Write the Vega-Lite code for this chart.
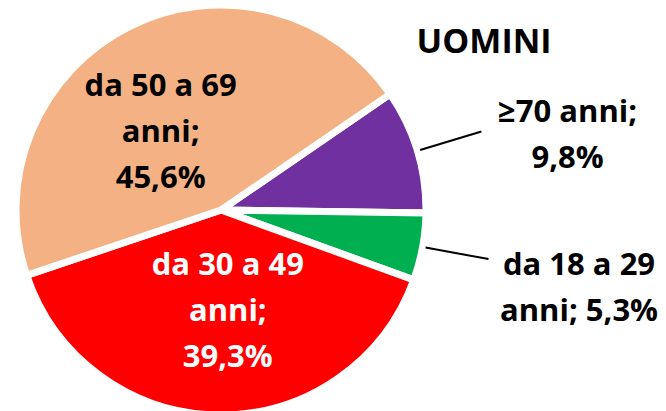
{
  "$schema": "https://vega.github.io/schema/vega-lite/v6.json",
  "width": 442,
  "height": 400,
  "autosize": "none",
  "padding": {"left": 0, "top": 10, "right": 224, "bottom": 1},
  "background": "white",
  "data": {
    "values": [
      {"gruppo": "≥70 anni", "valore": 9.8, "ordine": 1, "etichetta": "≥70 anni;\n9,8%"},
      {"gruppo": "da 18 a 29 anni", "valore": 5.3, "ordine": 2, "etichetta": "da 18 a 29\nanni; 5,3%"},
      {"gruppo": "da 30 a 49 anni", "valore": 39.3, "ordine": 3, "etichetta": "da 30 a 49\nanni;\n39,3%"},
      {"gruppo": "da 50 a 69 anni", "valore": 45.6, "ordine": 4, "etichetta": "da 50 a 69\nanni;\n45,6%"}
    ]
  },
  "encoding": {
    "theta": {"field": "valore", "type": "quantitative", "stack": true, "scale": {"range": [0.970, 7.2532]}},
    "order": {"field": "ordine", "type": "quantitative"}
  },
  "layer": [
    {
      "mark": {"type": "arc", "outerRadius": 205, "stroke": "white", "strokeWidth": 7},
      "encoding": {
        "color": {
          "field": "gruppo",
          "type": "nominal",
          "scale": {
            "domain": ["≥70 anni", "da 18 a 29 anni", "da 30 a 49 anni", "da 50 a 69 anni"],
            "range": ["#7030A0", "#00B050", "#FF0000", "#F4B183"]
          },
          "legend": null
        }
      }
    },
    {
      "mark": {"type": "arc", "innerRadius": 208, "outerRadius": 272, "padAngle": 1.2, "fillOpacity": 0, "stroke": "black", "strokeWidth": 2},
      "encoding": {
        "strokeOpacity": {"condition": {"test": "datum.ordine <= 2", "value": 1}, "value": 0}
      }
    },
    {
      "mark": {"type": "text", "radius": 86, "dx": -22, "dy": -46, "font": "Open Sans", "fontSize": 31, "fontWeight": "bold", "lineBreak": "\n", "lineHeight": 46, "align": "center", "baseline": "middle", "color": "black"},
      "encoding": {"text": {"condition": {"test": "datum.ordine === 4", "field": "etichetta"}, "value": ""}}
    },
    {
      "mark": {"type": "text", "radius": 102, "dx": 8, "dy": -46, "font": "Open Sans", "fontSize": 31, "fontWeight": "bold", "lineBreak": "\n", "lineHeight": 46, "align": "center", "baseline": "middle", "color": "white"},
      "encoding": {"text": {"condition": {"test": "datum.ordine === 3", "field": "etichetta"}, "value": ""}}
    },
    {
      "mark": {"type": "text", "radius": 362, "dy": 8, "font": "Open Sans", "fontSize": 31, "fontWeight": "bold", "lineBreak": "\n", "lineHeight": 46, "align": "center", "baseline": "middle", "color": "black"},
      "encoding": {"text": {"condition": {"test": "datum.ordine === 1", "field": "etichetta"}, "value": ""}}
    },
    {
      "mark": {"type": "text", "radius": 364, "dy": -10, "font": "Open Sans", "fontSize": 31, "fontWeight": "bold", "lineBreak": "\n", "lineHeight": 46, "align": "center", "baseline": "middle", "color": "black"},
      "encoding": {"text": {"condition": {"test": "datum.ordine === 2", "field": "etichetta"}, "value": ""}}
    },
    {
      "mark": {"type": "text", "radius": 280, "dx": -5, "dy": -76, "font": "Open Sans", "fontSize": 34, "fontWeight": "bold", "align": "center", "baseline": "alphabetic", "color": "black"},
      "encoding": {"text": {"condition": {"test": "datum.ordine === 1", "value": "UOMINI"}, "value": ""}}
    }
  ]
}
